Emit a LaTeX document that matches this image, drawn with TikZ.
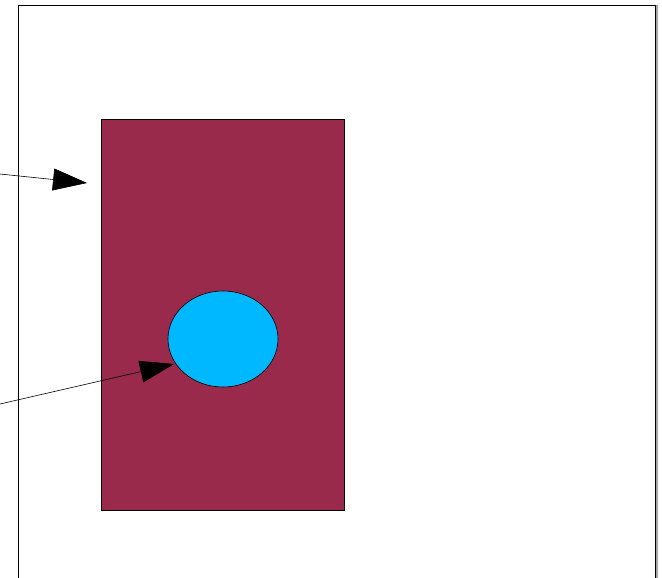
\documentclass[tikz,border=0pt]{standalone}
\usepackage{tikz}
\usetikzlibrary{arrows.meta}
\usetikzlibrary{shapes.geometric}
\definecolor{wine}{HTML}{992A4B}
\definecolor{skyblue}{HTML}{00B8FF}

\begin{document}
\begin{tikzpicture}[x=1pt,y=-1pt]
			\tikzstyle{BoxStyle}    = [draw, fill = wine, line width = 0.6pt, inner sep = 0pt, anchor = north west]
			\tikzstyle{CellStyle}   = [shape = ellipse, draw, fill = skyblue, line width = 0.6pt, inner sep = 0pt]
			\tikzstyle{PointerStyle} = [-{Triangle[length=34pt,width=22pt]}, line width = 0.6pt]
			\useasboundingbox (0,0) rectangle (662,578);
			% frame
			\draw[gray!70, line width = 2pt] (656.5,5) -- (656.5,578);
			\draw[line width = 0.8pt] (18,578) -- (18,5) -- (655,5) -- (655,578);
			% shapes
			\node[BoxStyle, minimum width = 243pt, minimum height = 391pt] (box) at (101,119) {};
			\node[CellStyle, minimum width = 110pt, minimum height = 96pt] (cell) at (223,339) {};
			% pointers
			\coordinate (p1) at (0,174);
			\coordinate (t1) at (87,183);
			\coordinate (p2) at (0,404);
			\coordinate (t2) at (174,364);
			\draw[PointerStyle] (p1) -- (t1);
			\draw[PointerStyle] (p2) -- (t2);
		\end{tikzpicture}
\end{document}
